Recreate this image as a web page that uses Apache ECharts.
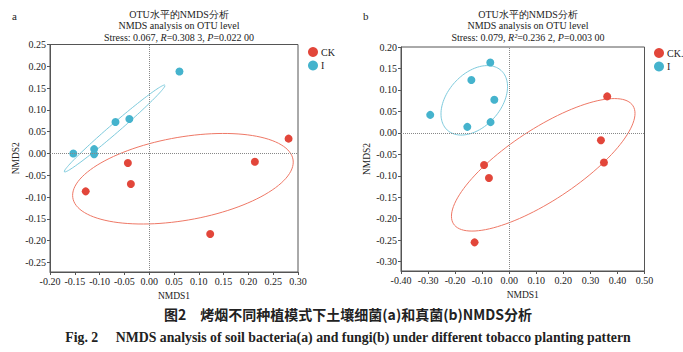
<!DOCTYPE html>
<html>
<head>
<meta charset="utf-8">
<script src="https://cdn.jsdelivr.net/npm/echarts@6/dist/echarts.min.js"></script>
<style>
html,body{margin:0;padding:0;background:#fff;}
#main{width:683px;height:352px;}
</style>
</head>
<body>
<div id="main"></div>
<script>
// a: bacteria, b: fungi  ([NMDS1, NMDS2])
var ckA = [[-0.043,-0.022],[-0.037,-0.070],[-0.128,-0.087],[0.123,-0.185],[0.213,-0.019],[0.281,0.034]];
var iA  = [[-0.153,0.000],[-0.111,0.010],[-0.111,-0.002],[-0.068,0.072],[-0.040,0.079],[0.061,0.188]];
var ckB = [[0.362,0.085],[0.339,-0.017],[0.350,-0.069],[-0.093,-0.075],[-0.075,-0.105],[-0.128,-0.255]];
var iB  = [[-0.070,0.164],[-0.140,0.123],[-0.055,0.077],[-0.292,0.042],[-0.069,0.025],[-0.155,0.014]];

// ellipses: cx, cy, sx, sy, r
var ellCKa = [0.068,-0.058,0.2224,0.1039,0.367];
var ellIa  = [-0.0696,0.0573,0.1016,0.0998,0.990];
var ellCKb = [0.1257,-0.0744,0.3392,0.1543,0.776];
var ellIb  = [-0.1292,0.0758,0.1230,0.0809,0.392];

var yTicksA = [-0.25,-0.20,-0.15,-0.10,-0.05,0.00,0.05,0.10,0.15,0.20,0.25];
var yTicksB = [-0.30,-0.25,-0.20,-0.15,-0.10,-0.05,0.00,0.05,0.10,0.15,0.20];

var red = '#e2463a', blue = '#45b3cd';
var redLine = '#ee7866', blueLine = '#7ecbdd';
var serif = '"Liberation Serif","DejaVu Serif",serif';

function ellipse(p){
    var pts = [];
    for(var k = 0; k <= 120; k++){
        var t = k / 120 * Math.PI * 2;
        pts.push([p[0] + p[2]*Math.cos(t), p[1] + p[3]*(p[4]*Math.cos(t) + Math.sqrt(1-p[4]*p[4])*Math.sin(t))]);
    }
    return pts;
}
function fmt(v){
    if(Math.abs(v) < 1e-9) return '0.00';
    return v.toFixed(2);
}

function xAx(idx,min,max,step){
    return {
        type:'value', gridIndex:idx, min:min, max:max, interval:step,
        name:'NMDS1', nameLocation:'middle', nameGap:14,
        nameTextStyle:{fontFamily:serif,fontSize:9.5,color:'#222'},
        axisLine:{onZero:false,lineStyle:{color:'#555',width:1}},
        axisTick:{length:3,lineStyle:{color:'#555'}},
        axisLabel:{fontFamily:serif,fontSize:10,color:'#222',margin:4,formatter:fmt,showMinLabel:true,showMaxLabel:true},
        splitLine:{show:false}
    };
}
function yAx(idx,min,max,ticks){
    return {
        type:'value', gridIndex:idx, min:min, max:max,
        name:'NMDS2', nameLocation:'middle', nameGap:29,
        nameTextStyle:{fontFamily:serif,fontSize:9.5,color:'#222'},
        axisLine:{onZero:false,lineStyle:{color:'#555',width:1}},
        axisTick:{length:3,customValues:ticks,lineStyle:{color:'#555'}},
        axisLabel:{fontFamily:serif,fontSize:10,color:'#222',margin:4,formatter:fmt,customValues:ticks},
        splitLine:{show:false}
    };
}
function zeroLines(){
    return {
        silent:true, symbol:'none', label:{show:false},
        lineStyle:{color:'#888',type:'dotted',width:1},
        data:[{xAxis:0},{yAxis:0}]
    };
}
function titleRich(){
    return {
        t:{fontFamily:serif,fontSize:10,fontWeight:'normal',color:'#222',lineHeight:11.5},
        i:{fontFamily:serif,fontSize:10,fontWeight:'normal',color:'#222',fontStyle:'italic',lineHeight:11.5}
    };
}

var chart = echarts.init(document.getElementById('main'), null, {renderer:'svg'});
var option = {
    animation:false,
    title:[
        {text:'{t|OTU水平的NMDS分析}\n{t|NMDS analysis on OTU level}\n{t|Stress: 0.067, }{i|R}{t|=0.308 3, }{i|P}{t|=0.022 00}',
         left:174, top:3.5, textAlign:'center', textStyle:{fontWeight:'normal',rich:titleRich()}},
        {text:'{t|OTU水平的NMDS分析}\n{t|NMDS analysis on OTU level}\n{t|Stress: 0.079, }{i|R²}{t|=0.236 2, }{i|P}{t|=0.003 00}',
         left:523, top:3.5, textAlign:'center', textStyle:{fontWeight:'normal',rich:titleRich()}},
        {text:'a', left:7, top:5, textStyle:{fontFamily:serif,fontSize:11,fontWeight:'normal',color:'#222'}},
        {text:'b', left:358, top:5, textStyle:{fontFamily:serif,fontSize:11,fontWeight:'normal',color:'#222'}},
        {text:'图2　烤烟不同种植模式下土壤细菌(a)和真菌(b)NMDS分析', left:343, top:302, textAlign:'center',
         textStyle:{fontFamily:'"Noto Sans CJK SC"',fontSize:14,fontWeight:'bold',color:'#222'}},
        {text:'Fig. 2　 NMDS analysis of soil bacteria(a) and fungi(b) under different tobacco planting pattern', left:343, top:325, textAlign:'center',
         textStyle:{fontFamily:serif,fontSize:13.8,fontWeight:'bold',color:'#222'}}
    ],
    legend:[
        {data:['CK','I'], left:303, top:42, orient:'vertical', icon:'circle', itemWidth:10, itemHeight:10, itemGap:3.5,
         textStyle:{fontFamily:serif,fontSize:10,color:'#222',padding:[0,0,0,-2]}},
        {data:['CK.','I'], left:649, top:43, orient:'vertical', icon:'circle', itemWidth:10, itemHeight:10, itemGap:3.5,
         textStyle:{fontFamily:serif,fontSize:10,color:'#222',padding:[0,0,0,-2]}}
    ],
    grid:[
        {left:50, top:44.5, width:248, height:227.5, show:true, borderColor:'#555', borderWidth:1, backgroundColor:'transparent'},
        {left:401, top:47, width:243.5, height:224, show:true, borderColor:'#555', borderWidth:1, backgroundColor:'transparent'}
    ],
    xAxis:[xAx(0,-0.2,0.3,0.05), xAx(1,-0.4,0.5,0.1)],
    yAxis:[yAx(0,-0.272,0.25,yTicksA), yAx(1,-0.3217,0.2,yTicksB)],
    series:[
        {name:'ellCKa', type:'line', xAxisIndex:0, yAxisIndex:0, data:ellipse(ellCKa), showSymbol:false, silent:true, lineStyle:{color:redLine,width:1}, z:1},
        {name:'ellIa', type:'line', xAxisIndex:0, yAxisIndex:0, data:ellipse(ellIa), showSymbol:false, silent:true, lineStyle:{color:blueLine,width:1}, z:1},
        {name:'ellCKb', type:'line', xAxisIndex:1, yAxisIndex:1, data:ellipse(ellCKb), showSymbol:false, silent:true, lineStyle:{color:redLine,width:1}, z:1},
        {name:'ellIb', type:'line', xAxisIndex:1, yAxisIndex:1, data:ellipse(ellIb), showSymbol:false, silent:true, lineStyle:{color:blueLine,width:1}, z:1},
        {name:'CK', type:'scatter', xAxisIndex:0, yAxisIndex:0, data:ckA, symbolSize:8, itemStyle:{color:red,opacity:1}, markLine:zeroLines(), z:3},
        {name:'I', type:'scatter', xAxisIndex:0, yAxisIndex:0, data:iA, symbolSize:8, itemStyle:{color:blue,opacity:1}, z:3},
        {name:'CK.', type:'scatter', xAxisIndex:1, yAxisIndex:1, data:ckB, symbolSize:8, itemStyle:{color:red,opacity:1}, markLine:zeroLines(), z:3},
        {name:'I', type:'scatter', xAxisIndex:1, yAxisIndex:1, data:iB, symbolSize:8, itemStyle:{color:blue,opacity:1}, z:3}
    ]
};
chart.setOption(option);
</script>
</body>
</html>
